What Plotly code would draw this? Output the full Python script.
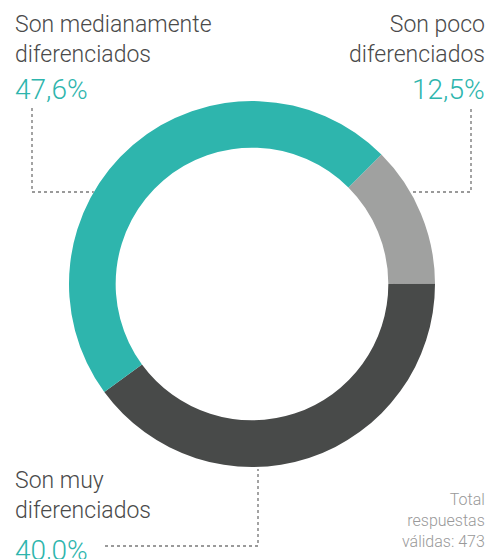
import math
import plotly.graph_objects as go

categories = ["Son poco diferenciados", "Son muy diferenciados", "Son medianamente diferenciados"]
values = [12.5, 40.0, 47.6]
value_labels = ["12,5%", "40,0%", "47,6%"]
colors = ["#a0a1a0", "#484a49", "#2eb5ad"]
total_note = "Total<br>respuestas<br>válidas: 473"

W, H = 488, 559
CX, CY, R = 252, 284, 183  # donut centre and outer radius in pixels


def px(x):
    return x / W


def py(y):
    return 1 - y / H


fig = go.Figure(go.Pie(
    labels=categories,
    values=values,
    marker=dict(colors=colors, line=dict(width=0)),
    hole=0.745,
    sort=False,
    direction="clockwise",
    rotation=45,
    textinfo="none",
    hoverinfo="label+percent",
    domain=dict(x=[px(CX - R), px(CX + R)], y=[py(CY + R), py(CY - R)]),
))

FONT = "Roboto"
label_col = "#4a4a4a"
teal = "#2eb5ad"

ann = []
# top-left
ann.append(dict(x=px(13), y=py(9), xanchor="left", yanchor="top",
                text="Son medianamente<br>diferenciados", align="left",
                font=dict(family=FONT, size=23, color=label_col, weight=300)))
ann.append(dict(x=px(13), y=py(71), xanchor="left", yanchor="top",
                text=value_labels[2], align="left",
                font=dict(family=FONT, size=28, color=teal, weight=300)))
# top-right
ann.append(dict(x=px(487), y=py(9), xanchor="right", yanchor="top",
                text="Son poco<br>diferenciados", align="right",
                font=dict(family=FONT, size=23, color=label_col, weight=300)))
ann.append(dict(x=px(487), y=py(71), xanchor="right", yanchor="top",
                text=value_labels[0], align="right",
                font=dict(family=FONT, size=28, color=teal, weight=300)))
# bottom-left
ann.append(dict(x=px(13), y=py(465), xanchor="left", yanchor="top",
                text="Son muy<br>diferenciados", align="left",
                font=dict(family=FONT, size=23, color=label_col, weight=300)))
ann.append(dict(x=px(13), y=py(532), xanchor="left", yanchor="top",
                text=value_labels[1], align="left",
                font=dict(family=FONT, size=28, color=teal, weight=300)))
# total
ann.append(dict(x=px(487), y=py(488), xanchor="right", yanchor="top",
                text=total_note, align="right",
                font=dict(family=FONT, size=16, color="#999999", weight=300)))
for a in ann:
    a.update(xref="paper", yref="paper", showarrow=False)


def ring_x(y, side):
    dy = y - CY
    return CX + side * math.sqrt(R * R - dy * dy)


dot = dict(color="#9a9a9a", width=1.8, dash="dot")
shapes = []
# left leader
shapes.append(dict(type="path", path=f"M {px(32)},{py(108)} L {px(32)},{py(192)} L {px(ring_x(192, -1))},{py(192)}", line=dot))
# right leader
shapes.append(dict(type="path", path=f"M {px(471)},{py(109)} L {px(471)},{py(192)} L {px(ring_x(192, 1))},{py(192)}", line=dot))
# bottom leader
shapes.append(dict(type="path", path=f"M {px(105)},{py(546)} L {px(258)},{py(546)} L {px(258)},{py(CY + R + 2)}", line=dot))
for s in shapes:
    s.update(xref="paper", yref="paper")

fig.update_layout(
    width=W, height=H,
    margin=dict(l=0, r=0, t=0, b=0),
    paper_bgcolor="white", plot_bgcolor="white",
    showlegend=False,
    annotations=ann,
    shapes=shapes,
)

fig.write_html("out.html", config={"displayModeBar": False},
               post_script="document.body.style.margin='0';document.body.style.overflow='hidden';")
